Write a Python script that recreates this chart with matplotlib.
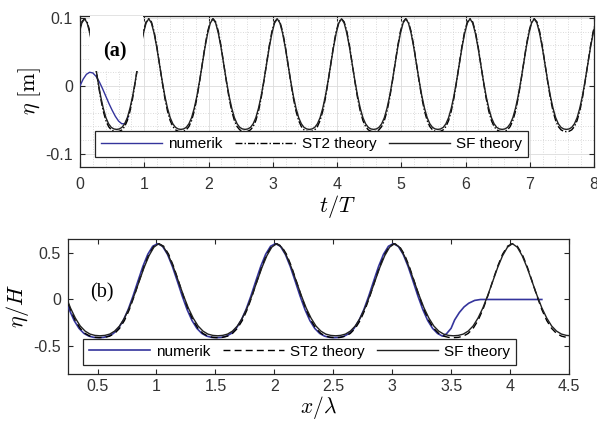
import numpy as np
import matplotlib
matplotlib.use("Agg")
import matplotlib.pyplot as plt
from matplotlib.ticker import MultipleLocator, FuncFormatter
from matplotlib.patches import Rectangle

plt.rcParams["font.family"] = ["Liberation Sans", "DejaVu Sans"]
plt.rcParams["mathtext.fontset"] = "cm"
plt.rcParams["axes.unicode_minus"] = False

# one wave period (eta/H against phase, crest at phase 0)
fase = np.linspace(0, 1, 25)
perfil_sf = [0.600, 0.562, 0.470, 0.343, 0.196, 0.046, -0.090, -0.200, -0.285, -0.340, -0.372, -0.386, -0.390,
             -0.386, -0.372, -0.340, -0.285, -0.200, -0.090, 0.046, 0.196, 0.343, 0.470, 0.562, 0.600]
perfil_st2 = [0.600, 0.572, 0.486, 0.356, 0.199, 0.038, -0.108, -0.226, -0.311, -0.365, -0.394, -0.407, -0.410,
              -0.407, -0.394, -0.365, -0.311, -0.226, -0.108, 0.038, 0.199, 0.356, 0.486, 0.572, 0.600]

# (a) time series at the gauge
H_onda = 0.165          # wave height [m]
t_crista = 0.07         # first crest, t/T
periodos_a = list(range(-1, 9))
t_num = [0.0, 0.05, 0.10, 0.15, 0.20, 0.25, 0.30, 0.35, 0.40, 0.45, 0.50, 0.55, 0.60, 0.65, 0.70, 0.75]
eta_num = [0.0, 0.010, 0.017, 0.020, 0.019, 0.014, 0.006, -0.004, -0.015, -0.026, -0.036, -0.045, -0.052,
           -0.056, -0.056, -0.046]

# (b) surface profile along the flume
x_crista = 0.02         # crest offset, x/lambda
x_crista_num = 0.01
periodos_b = [-1, 0, 1, 2, 3, 4]
x_fim_num = 3.46
x_rampa = [3.46, 3.50, 3.53, 3.57, 3.61, 3.65, 3.70, 3.75, 4.27]
eta_rampa = [-0.37, -0.31, -0.22, -0.14, -0.08, -0.04, -0.01, 0.0, 0.0]


def serie(periodos, offset, perfil):
    x = np.concatenate([n + offset + fase for n in periodos])
    y = np.tile(perfil, len(periodos))
    return x, y


def fmt(v, pos):
    return "%g" % v


cor_num = "#34349c"
cor_eixo = "#262626"

fig = plt.figure(figsize=(5.97, 4.23), dpi=100)
ax1 = fig.add_axes([0.134, 0.605, 0.861, 0.357])
ax2 = fig.add_axes([0.114, 0.116, 0.839, 0.319])

#Painel (a)
t_sf, e_sf = serie(periodos_a, t_crista, perfil_sf)
t_st, e_st = serie(periodos_a, t_crista, perfil_st2)
ax1.plot(t_num, eta_num, color=cor_num, lw=1.0, label="numerik", zorder=3)
ax1.plot(t_st, np.array(e_st) * H_onda, color="k", lw=1.0, ls=(0, (5, 1.5, 1, 1.5)), label="ST2 theory", zorder=4)
ax1.plot(t_sf, np.array(e_sf) * H_onda, color="#202020", lw=1.0, label="SF theory", zorder=4)
ax1.add_patch(Rectangle((0.15, 0.022), 0.83, 0.081, facecolor="white", edgecolor="none", zorder=5))
ax1.text(0.55, 0.05, "(a)", family="Liberation Serif", fontsize=14.5, fontweight="bold",
         ha="center", va="center", zorder=6)
ax1.set_xlim(0, 8)
ax1.set_ylim(-0.12, 0.103)
ax1.set_xticks(range(0, 9))
ax1.set_yticks([-0.1, 0, 0.1])
ax1.xaxis.set_minor_locator(MultipleLocator(0.2))
ax1.yaxis.set_minor_locator(MultipleLocator(0.02))
ax1.grid(True, which="major", color="#dcdcdc", lw=0.6, zorder=0)
ax1.grid(True, which="minor", color="#cfcfcf", lw=0.6, ls=(0, (1, 2)), zorder=0)
ax1.set_axisbelow(True)
ax1.set_xlabel(r"$t/T$", fontsize=16, labelpad=1)
ax1.set_ylabel(r"$\eta\ [\mathrm{m}]$", fontsize=16, labelpad=2)

#Painel (b)
x_sf, b_sf = serie(periodos_b, x_crista, perfil_sf)
x_st, b_st = serie(periodos_b, x_crista, perfil_st2)
x_n, b_n = serie(periodos_b, x_crista_num, perfil_st2)
manter = x_n < x_fim_num
x_n = np.concatenate([x_n[manter], x_rampa])
b_n = np.concatenate([b_n[manter], eta_rampa])
ax2.plot(x_n, b_n, color=cor_num, lw=1.2, label="numerik", zorder=3)
ax2.plot(x_st, b_st, color="k", lw=1.0, ls=(0, (5, 3)), label="ST2 theory", zorder=4)
ax2.plot(x_sf, b_sf, color="#202020", lw=1.0, label="SF theory", zorder=4)
ax2.text(0.54, 0.07, "(b)", family="Liberation Serif", fontsize=14.5, ha="center", va="center")
ax2.set_xlim(0.25, 4.5)
ax2.set_ylim(-0.8, 0.65)
ax2.set_xticks(np.arange(0.5, 4.51, 0.5))
ax2.set_yticks([-0.5, 0, 0.5])
ax2.set_xlabel(r"$x/\lambda$", fontsize=15.5, labelpad=0)
ax2.set_ylabel(r"$\eta/H$", fontsize=16, labelpad=2)

for ax, ancora in [(ax1, (0.029, 0.066)), (ax2, (0.03, 0.067))]:
    ax.xaxis.set_major_formatter(FuncFormatter(fmt))
    ax.yaxis.set_major_formatter(FuncFormatter(fmt))
    ax.tick_params(which="major", direction="in", length=3.5, width=0.8, top=True, right=True,
                   labelsize=11.5, labelcolor="#333333", color=cor_eixo, pad=5)
    ax.tick_params(which="minor", length=0)
    for s in ax.spines.values():
        s.set_color(cor_eixo)
        s.set_linewidth(0.9)
    leg = ax.legend(loc="lower left", bbox_to_anchor=ancora, borderaxespad=0, ncol=3, fontsize=11,
                    fancybox=False, framealpha=1, edgecolor=cor_eixo, handlelength=4, handletextpad=0.4,
                    columnspacing=0.8, borderpad=0.4)
    leg.get_frame().set_linewidth(0.9)
    leg.set_zorder(10)
ax1.tick_params(axis="x", which="major", pad=7)
ax2.tick_params(axis="x", which="major", pad=4)

fig.savefig("out.png", dpi=100)
